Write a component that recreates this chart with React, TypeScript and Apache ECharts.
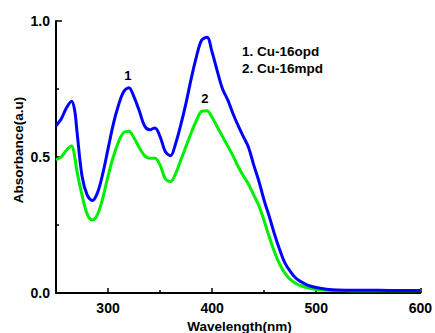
import React, { useEffect, useRef } from "react";
import * as echarts from "echarts";

const wavelengths = [250, 255, 260, 265, 268, 270, 275, 280, 285, 290, 295, 300, 305, 310, 315, 320, 325, 330, 335, 340, 345, 350, 355, 360, 365, 370, 375, 380, 385, 390, 395, 400, 405, 410, 415, 420, 425, 430, 435, 440, 445, 450, 455, 460, 465, 470, 475, 480, 485, 490, 495, 500, 510, 520, 540, 560, 580, 600];

const cu16opd = [0.615, 0.64, 0.68, 0.705, 0.67, 0.6, 0.43, 0.36, 0.34, 0.37, 0.44, 0.53, 0.62, 0.69, 0.74, 0.755, 0.72, 0.67, 0.615, 0.6, 0.607, 0.575, 0.52, 0.505, 0.55, 0.62, 0.7, 0.79, 0.87, 0.93, 0.94, 0.885, 0.815, 0.75, 0.71, 0.66, 0.615, 0.575, 0.535, 0.47, 0.41, 0.34, 0.28, 0.215, 0.158, 0.11, 0.08, 0.056, 0.042, 0.032, 0.025, 0.02, 0.014, 0.011, 0.01, 0.01, 0.009, 0.009];

const cu16mpd = [0.49, 0.5, 0.525, 0.54, 0.5, 0.45, 0.36, 0.29, 0.268, 0.29, 0.35, 0.43, 0.5, 0.555, 0.59, 0.595, 0.57, 0.535, 0.505, 0.495, 0.495, 0.47, 0.42, 0.41, 0.44, 0.49, 0.54, 0.59, 0.635, 0.668, 0.67, 0.645, 0.61, 0.575, 0.54, 0.505, 0.465, 0.43, 0.4, 0.36, 0.32, 0.265, 0.205, 0.15, 0.105, 0.072, 0.05, 0.036, 0.027, 0.021, 0.016, 0.013, 0.01, 0.009, 0.008, 0.008, 0.008, 0.008];

const seriesNames = ["1. Cu-16opd", "2. Cu-16mpd"];
const peakLabels = ["1", "2"];
const peakPoints = [[319, 0.755], [393, 0.67]];
const xMajorTicks = [300, 400, 500, 600];
const xMinorTicks = [350, 450, 550];

const FONT = "'Liberation Sans', Arial, sans-serif";

export default function App() {
  const ref = useRef<HTMLDivElement>(null);
  useEffect(() => {
    if (!ref.current) return;
    const chart = echarts.init(ref.current, null, { renderer: "svg" });
    const mk = (vals: number[]) => wavelengths.map((w, i) => [w, vals[i]]);
    const axisLine = { show: true, lineStyle: { color: "#000", width: 2 } };
    chart.setOption({
      animation: false,
      backgroundColor: "#fff",
      grid: { left: 56, right: 12, top: 21, bottom: 40 },
      xAxis: [
        {
          type: "value",
          min: 250,
          max: 600,
          axisLine,
          splitLine: { show: false },
          axisTick: { show: true, inside: true, length: 5, customValues: xMajorTicks, lineStyle: { color: "#000", width: 1.5 } },
          axisLabel: { customValues: xMajorTicks, color: "#000", fontSize: 14, fontWeight: "bold", fontFamily: FONT, margin: 8 },
        },
        {
          type: "value",
          min: 250,
          max: 600,
          position: "bottom",
          axisLine: { show: false },
          splitLine: { show: false },
          axisTick: { show: true, inside: true, length: 3, customValues: xMinorTicks, lineStyle: { color: "#000", width: 1.5 } },
          axisLabel: { show: false },
        },
      ],
      yAxis: [
        {
          type: "value",
          min: 0,
          max: 1,
          interval: 0.5,
          axisLine,
          splitLine: { show: false },
          axisTick: { show: true, inside: true, length: 6, lineStyle: { color: "#000", width: 1.5 } },
          minorTick: { show: true, splitNumber: 2, length: 3, lineStyle: { color: "#000", width: 1.5 } },
          axisLabel: { color: "#000", fontSize: 14, fontWeight: "bold", fontFamily: FONT, margin: 6, formatter: (v: number) => v.toFixed(1) },
        },
      ],
      series: [
        {
          name: seriesNames[0],
          type: "line",
          data: mk(cu16opd),
          smooth: 0.35,
          showSymbol: false,
          lineStyle: { color: "#0000ff", width: 3 },
          z: 3,
          markPoint: {
            symbol: "circle",
            symbolSize: 0,
            data: [{ coord: peakPoints[0], value: peakLabels[0] }],
            label: { show: true, position: "top", distance: 6, formatter: peakLabels[0], color: "#000", fontSize: 13, fontWeight: "bold", fontFamily: FONT },
          },
        },
        {
          name: seriesNames[1],
          type: "line",
          data: mk(cu16mpd),
          smooth: 0.35,
          showSymbol: false,
          lineStyle: { color: "#00ee00", width: 3 },
          z: 2,
          markPoint: {
            symbol: "circle",
            symbolSize: 0,
            data: [{ coord: peakPoints[1], value: peakLabels[1] }],
            label: { show: true, position: "top", distance: 6, formatter: peakLabels[1], color: "#000", fontSize: 13, fontWeight: "bold", fontFamily: FONT },
          },
        },
      ],
      graphic: [
        { type: "text", left: 242, top: 44, style: { text: seriesNames[0], fill: "#000", font: `bold 13.5px ${FONT}` } },
        { type: "text", left: 242, top: 61, style: { text: seriesNames[1], fill: "#000", font: `bold 13.5px ${FONT}` } },
        { type: "text", x: 239.5, y: 326, style: { text: "Wavelength(nm)", fill: "#000", font: `bold 13.5px ${FONT}`, align: "center", verticalAlign: "middle" } },
        { type: "text", x: 18, y: 150, rotation: Math.PI / 2, style: { text: "Absorbance(a.u)", fill: "#000", font: `bold 13.5px ${FONT}`, align: "center", verticalAlign: "middle" } },
      ],
    });
    return () => chart.dispose();
  }, []);
  return <div ref={ref} style={{ position: "fixed", left: 0, top: 0, width: 435, height: 333 }} />;
}
